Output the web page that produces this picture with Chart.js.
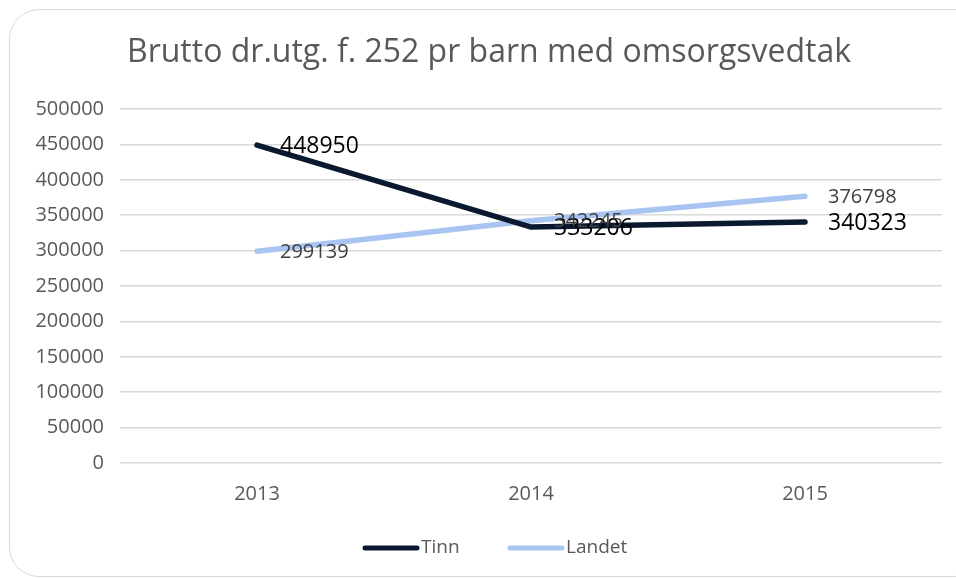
<!DOCTYPE html>
<html>
<head>
<meta charset="utf-8">
<script src="https://cdn.jsdelivr.net/npm/chart.js@4.4.1/dist/chart.umd.min.js"></script>
<style>
  html, body { margin: 0; padding: 0; background: #fff; overflow: hidden; }
  #wrap { position: relative; width: 956px; height: 578px; }
  #frame {
    position: absolute; left: 9px; top: 9px; width: 975px; height: 568px;
    border: 1px solid #d9d9d9; border-radius: 30px; box-sizing: border-box;
  }
  canvas { position: absolute; left: 0; top: 0; }
</style>
</head>
<body>
<div id="wrap">
  <div id="frame"></div>
  <canvas id="chart" width="956" height="578"></canvas>
</div>
<script>
const years = ["2013", "2014", "2015"];
const tinn = [448950, 333206, 340323];
const landet = [299139, 342245, 376798];
const yTicks = [0, 50000, 100000, 150000, 200000, 250000, 300000, 350000, 400000, 450000, 500000];

const FONT = "'Open Sans', sans-serif";
const GREY = "#595959";

// title, value labels and legend drawn by hand
const extras = {
  id: "extras",
  afterDatasetsDraw(chart) {
    const ctx = chart.ctx;
    ctx.save();
    ctx.fillStyle = GREY;
    ctx.font = `32px ${FONT}`;
    ctx.textAlign = "center";
    ctx.textBaseline = "middle";
    ctx.fillText("Brutto dr.utg. f. 252 pr barn med omsorgsvedtak", 489, 53);

    ctx.textAlign = "left";
    chart.data.datasets.forEach((ds, i) => {
      const meta = chart.getDatasetMeta(i);
      ctx.font = `${ds.labelSize}px ${FONT}`;
      ctx.fillStyle = ds.labelColor;
      meta.data.forEach((pt, j) => {
        ctx.fillText(String(ds.data[j]), pt.x + 23, pt.y + 1);
      });
    });

    // legend
    const items = [
      { x: 365, text: "Tinn", color: chart.data.datasets[0].borderColor },
      { x: 510, text: "Landet", color: chart.data.datasets[1].borderColor },
    ];
    ctx.font = `19px ${FONT}`;
    items.forEach((it) => {
      ctx.strokeStyle = it.color;
      ctx.lineWidth = 5;
      ctx.lineCap = "round";
      ctx.beginPath();
      ctx.moveTo(it.x, 548);
      ctx.lineTo(it.x + 52, 548);
      ctx.stroke();
      ctx.fillStyle = GREY;
      ctx.fillText(it.text, it.x + 56, 548);
    });
    ctx.restore();
  },
};

new Chart(document.getElementById("chart"), {
  type: "line",
  data: {
    labels: years,
    datasets: [
      {
        label: "Tinn",
        data: tinn,
        borderColor: "#0a1930",
        borderWidth: 5.5,
        pointRadius: 0,
        labelSize: 23,
        labelColor: "#000000",
      },
      {
        label: "Landet",
        data: landet,
        borderColor: "#a8c5f2",
        borderWidth: 5.5,
        pointRadius: 0,
        labelSize: 20,
        labelColor: "#404040",
      },
    ],
  },
  options: {
    responsive: false,
    animation: false,
    layout: { padding: { top: 109, right: 14, bottom: 0, left: 0 } },
    plugins: { legend: { display: false }, title: { display: false }, tooltip: { enabled: false } },
    elements: { line: { borderCapStyle: "round", tension: 0 } },
    scales: {
      x: {
        offset: true,
        grid: { display: false, drawTicks: false },
        border: { display: false },
        ticks: { color: GREY, font: { family: FONT, size: 20 }, padding: 19 },
        afterFit: (s) => { s.height = 115; },
      },
      y: {
        min: 0,
        max: 500000,
        afterBuildTicks: (s) => { s.ticks = yTicks.map((v) => ({ value: v })); },
        grid: { color: "#d9d9d9", lineWidth: 1.5, drawTicks: false },
        border: { display: false },
        ticks: { color: GREY, font: { family: FONT, size: 20 }, padding: 16, callback: (v) => String(v) },
        afterFit: (s) => { s.width = 120; },
      },
    },
  },
  plugins: [extras],
});
</script>
</body>
</html>
